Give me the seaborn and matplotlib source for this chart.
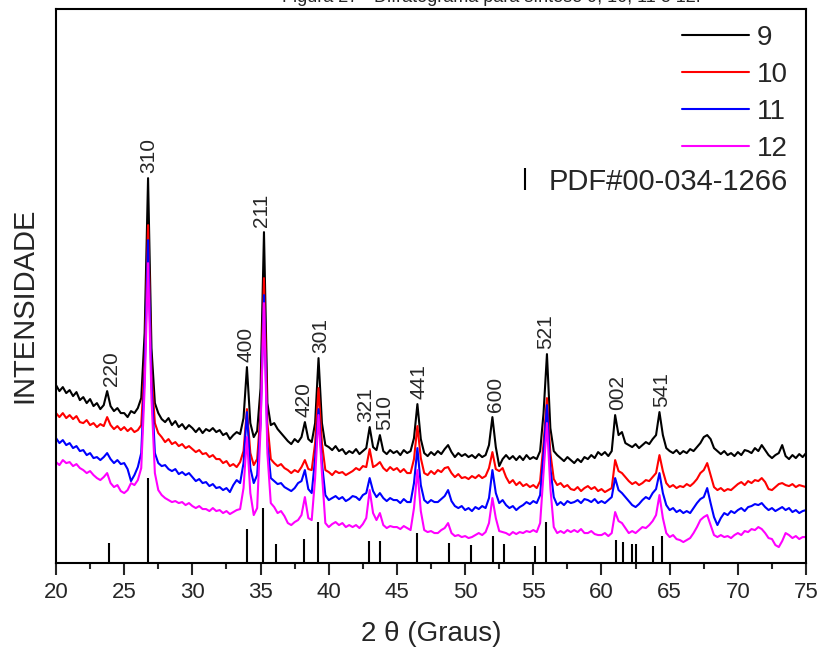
import numpy as np
import pandas as pd
import seaborn as sns
import matplotlib.pyplot as plt
from matplotlib.lines import Line2D
from matplotlib.ticker import MultipleLocator

# 2 theta grid (deg), step 0.25
two_theta = np.arange(20, 75.001, 0.25)

# stacked intensities (a.u.), one row = 5 degrees
int_9 = [
    178, 172, 176, 170, 173, 167, 171, 163, 166, 160, 164, 157, 160, 154, 158, 172, 157, 152, 155, 150,
    150, 146, 152, 150, 155, 165, 230, 385, 215, 160, 150, 144, 141, 145, 138, 142, 136, 139, 134, 138,
    135, 131, 135, 130, 134, 132, 135, 131, 133, 128, 130, 124, 128, 131, 129, 145, 196, 140, 126, 132,
    175, 331, 160, 138, 140, 134, 130, 126, 122, 119, 124, 121, 126, 141, 124, 121, 140, 205, 140, 118,
    116, 113, 117, 112, 114, 109, 112, 110, 114, 109, 112, 115, 136, 116, 113, 128, 112, 109, 113, 110,
    112, 108, 113, 110, 112, 125, 159, 124, 110, 107, 111, 108, 112, 109, 114, 118, 111, 106, 110, 107,
    109, 106, 108, 105, 109, 106, 108, 118, 146, 116, 97, 104, 108, 104, 107, 103, 107, 103, 108, 104,
    106, 104, 112, 150, 209, 135, 112, 108, 105, 102, 106, 103, 100, 104, 101, 106, 104, 108, 105, 111,
    108, 111, 107, 112, 148, 128, 131, 120, 118, 116, 119, 115, 118, 121, 119, 124, 128, 151, 128, 115,
    112, 110, 113, 109, 112, 110, 114, 112, 116, 120, 126, 128, 124, 115, 112, 109, 112, 108, 110, 107,
    111, 108, 113, 112, 110, 115, 112, 118, 113, 108, 105, 108, 110, 118, 107, 104, 108, 105, 109, 106,
    110]

int_10 = [
    150, 146, 150, 145, 148, 144, 147, 141, 140, 143, 138, 140, 136, 139, 137, 146, 138, 134, 137, 133,
    136, 132, 135, 131, 133, 138, 200, 338, 190, 140, 130, 126, 121, 124, 119, 121, 117, 119, 115, 117,
    114, 111, 113, 109, 110, 106, 108, 104, 104, 100, 102, 97, 99, 96, 101, 112, 154, 110, 98, 104,
    150, 285, 140, 104, 100, 97, 99, 95, 93, 90, 93, 91, 96, 103, 94, 93, 120, 175, 120, 93,
    91, 88, 92, 90, 91, 88, 90, 92, 95, 93, 97, 96, 114, 96, 98, 101, 95, 92, 96, 93,
    95, 91, 94, 90, 90, 104, 137, 105, 90, 88, 92, 89, 93, 91, 95, 96, 90, 86, 89, 85,
    86, 84, 87, 85, 88, 85, 87, 95, 111, 94, 92, 95, 86, 80, 83, 78, 81, 77, 79, 76,
    78, 75, 82, 120, 165, 110, 84, 78, 80, 76, 78, 74, 73, 76, 72, 75, 77, 74, 76, 72,
    74, 71, 73, 75, 103, 92, 90, 86, 82, 79, 81, 78, 80, 83, 82, 86, 90, 108, 92, 80,
    76, 78, 75, 77, 76, 79, 77, 80, 84, 90, 93, 100, 88, 76, 73, 75, 72, 74, 73, 76,
    79, 81, 78, 82, 80, 83, 82, 85, 81, 74, 73, 76, 79, 80, 78, 77, 79, 76, 78, 77,
    76]

int_11 = [
    125, 120, 123, 118, 120, 115, 117, 112, 113, 108, 110, 105, 106, 103, 106, 110, 104, 100, 103, 99,
    100, 94, 82, 88, 96, 110, 190, 323, 180, 110, 100, 97, 98, 94, 92, 94, 89, 91, 88, 90,
    86, 82, 84, 80, 81, 77, 79, 75, 76, 73, 75, 71, 78, 83, 80, 100, 151, 95, 80, 88,
    140, 268, 120, 85, 82, 79, 80, 76, 74, 72, 75, 80, 82, 93, 74, 70, 105, 154, 100, 68,
    63, 65, 67, 64, 66, 62, 64, 67, 66, 63, 68, 70, 85, 72, 66, 70, 65, 62, 65, 63,
    63, 60, 64, 61, 61, 80, 115, 78, 63, 60, 63, 61, 61, 64, 67, 73, 62, 57, 55, 57,
    53, 55, 52, 56, 54, 57, 55, 65, 93, 70, 60, 63, 58, 55, 57, 53, 56, 58, 61, 59,
    62, 60, 68, 110, 158, 95, 66, 58, 61, 58, 62, 60, 61, 63, 60, 64, 63, 61, 64, 60,
    62, 60, 63, 66, 85, 73, 70, 66, 62, 58, 56, 59, 63, 66, 64, 70, 74, 90, 70, 58,
    53, 55, 51, 53, 50, 52, 50, 55, 60, 64, 66, 75, 60, 46, 38, 45, 50, 48, 52, 50,
    53, 55, 52, 56, 57, 59, 58, 60, 56, 53, 55, 52, 54, 56, 53, 55, 51, 53, 50, 52,
    53]

int_12 = [
    101, 98, 103, 100, 101, 97, 99, 95, 93, 90, 92, 88, 85, 83, 86, 90, 80, 76, 78, 72,
    70, 73, 80, 78, 83, 95, 175, 300, 165, 90, 73, 68, 65, 63, 61, 62, 60, 61, 58, 60,
    57, 55, 57, 54, 54, 52, 55, 52, 53, 50, 52, 49, 51, 53, 54, 75, 126, 70, 48, 55,
    135, 260, 110, 60, 56, 50, 52, 47, 40, 38, 41, 43, 48, 66, 45, 43, 85, 148, 90, 40,
    36, 39, 41, 38, 40, 36, 38, 36, 38, 35, 39, 45, 73, 50, 43, 50, 38, 35, 37, 36,
    36, 34, 37, 35, 33, 55, 93, 52, 33, 31, 32, 30, 30, 33, 35, 40, 30, 27, 28, 26,
    27, 25, 26, 28, 30, 28, 31, 40, 65, 45, 32, 31, 30, 28, 31, 29, 31, 30, 32, 31,
    33, 31, 40, 90, 140, 75, 36, 30, 32, 30, 33, 31, 33, 31, 34, 30, 30, 32, 29, 28,
    28, 30, 27, 30, 51, 42, 40, 35, 30, 32, 30, 33, 36, 35, 38, 42, 48, 68, 45, 30,
    26, 28, 24, 23, 21, 23, 25, 30, 36, 43, 46, 48, 38, 28, 26, 28, 26, 27, 25, 28,
    30, 28, 32, 31, 34, 33, 36, 34, 30, 25, 24, 18, 16, 22, 30, 28, 25, 27, 24, 26,
    26]

samples = ["9", "10", "11", "12"]
colors = ["#000000", "#FF0000", "#0000FF", "#FF00FF"]

# PDF#00-034-1266 reference lines
pdf_pos = [23.85, 26.73, 34.0, 35.15, 36.15, 38.18, 39.2, 42.98, 43.79, 46.45, 48.85,
           50.44, 52.06, 52.87, 55.1, 55.9, 61.08, 61.6, 62.27, 62.5, 63.8, 64.4]
pdf_int = [20, 85, 34, 55, 19, 24, 41, 22, 22, 30, 20, 18, 27, 19, 17, 41, 23, 21, 19, 19, 17, 27]

# hkl labels
hkl = ["220", "310", "400", "211", "420", "301", "321", "510", "441", "600", "521", "002", "541"]
hkl_pos = [24.1, 26.83, 33.9, 35.1, 38.2, 39.4, 42.74, 44.08, 46.65, 52.23, 55.9, 61.16, 64.42]

df = pd.concat([
    pd.DataFrame({"2theta": two_theta, "intensidade": vals, "amostra": name})
    for name, vals in zip(samples, [int_9, int_10, int_11, int_12])
])

sns.set_theme(style="ticks")
plt.rcParams["font.family"] = ["Liberation Sans", "DejaVu Sans"]

fig, ax = plt.subplots(figsize=(8.2, 6.57), dpi=100)
fig.subplots_adjust(left=0.0683, right=0.983, bottom=0.143, top=0.986)

sns.lineplot(data=df, x="2theta", y="intensidade", hue="amostra", hue_order=samples,
             palette=colors, linewidth=1.5, estimator=None, sort=False, legend=False, ax=ax)

ax.vlines(pdf_pos, 0, pdf_int, color="black", linewidth=1.5)

# peak labels above sample 9
for lab, pos in zip(hkl, hkl_pos):
    near = np.abs(two_theta - pos) <= 0.4
    top = max(np.array(int_9)[near])
    ax.annotate(lab, (pos, top), xytext=(0, 4), textcoords="offset points",
                rotation=90, ha="center", va="bottom", fontsize=15)

ax.set_xlim(20, 75)
ax.set_ylim(0, 554)
ax.set_yticks([])
ax.xaxis.set_major_locator(MultipleLocator(5))
ax.xaxis.set_minor_locator(MultipleLocator(2.5))
ax.tick_params(axis="x", which="major", direction="out", length=8.6, width=1.5,
               labelsize=16, pad=5, top=False)
ax.tick_params(axis="x", which="minor", direction="out", length=4.5, width=1.5, top=False)
for sp in ax.spines.values():
    sp.set_linewidth(1.5)
    sp.set_color("black")

ax.set_xlabel("2 θ (Graus)", fontsize=20)
ax.xaxis.set_label_coords(0.5, -0.105)
ax.set_ylabel("INTENSIDADE", fontsize=21)
ax.yaxis.set_label_coords(-0.023, 0.466)

handles = [Line2D([], [], color=c, lw=1.5) for c in colors]
leg1 = ax.legend(handles, samples, loc="upper right", bbox_to_anchor=(0.976, 0.972),
                 frameon=False, fontsize=20, handlelength=2.4, handletextpad=0.3,
                 labelspacing=0.4, borderpad=0, borderaxespad=0)
ax.add_artist(leg1)
pdf_handle = Line2D([], [], color="black", marker="|", linestyle="none",
                    markersize=16, markeredgewidth=1.5)
ax.legend([pdf_handle], ["PDF#00-034-1266"], loc="upper right", bbox_to_anchor=(0.976, 0.714),
          frameon=False, fontsize=21, handlelength=0.6, handletextpad=0.5,
          borderpad=0, borderaxespad=0)

fig.text(0.599, 0.997, "Figura 27 - Difratograma para síntese 9, 10, 11 e 12.",
         ha="center", va="baseline", fontsize=13)

fig.savefig("out.png", dpi=100)
